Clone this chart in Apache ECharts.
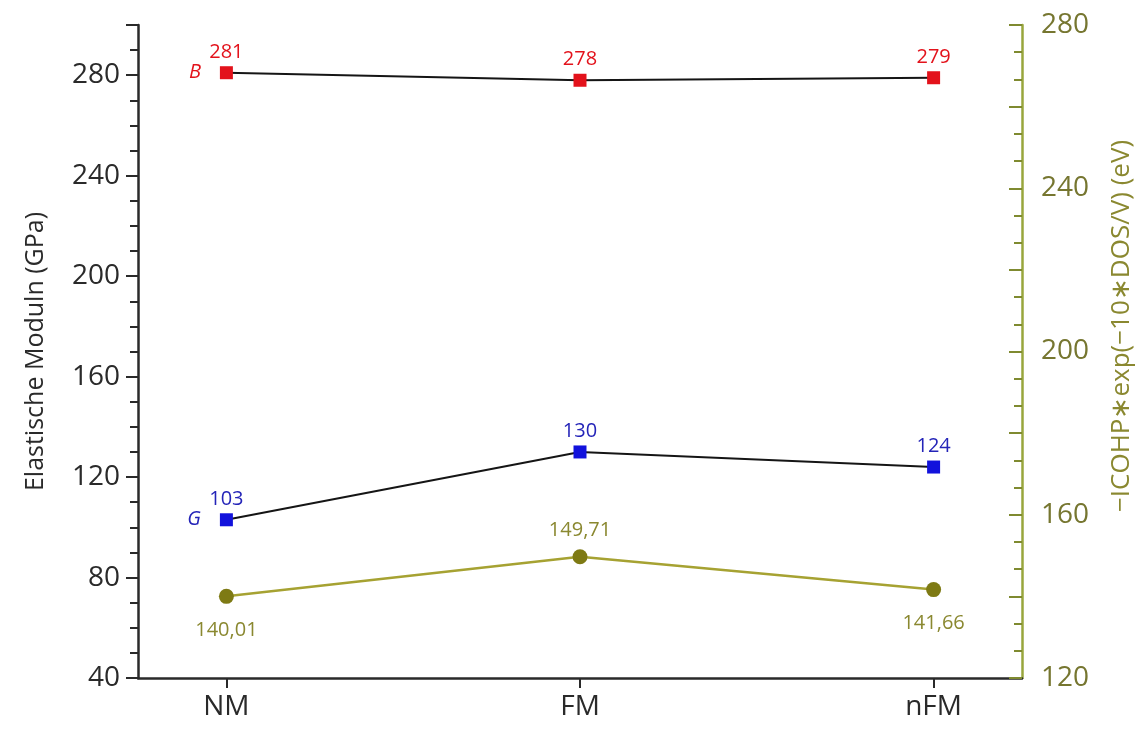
<!DOCTYPE html>
<html>
<head>
<meta charset="utf-8">
<title>Elastische Moduln</title>
<script src="https://cdn.jsdelivr.net/npm/echarts@6/dist/echarts.min.js"></script>
<style>
  html, body { margin: 0; padding: 0; background: #ffffff; }
  #chart { width: 1146px; height: 729px; }
</style>
</head>
<body>
<div id="chart"></div>
<script>
// Magnetic states along the horizontal axis
const categories = ['NM', 'FM', 'nFM'];
// Bulk modulus B and shear modulus G (GPa), left axis
const bulkB = [281, 278, 279];
const shearG = [103, 130, 124];
// -ICOHP*exp(-10*DOS/V) (eV), right axis
const icohp = [140.01, 149.71, 141.66];
// Where each ICOHP value label sits relative to its marker
const icohpLabelPos = ['bottom', 'top', 'bottom'];
// Axis tick values
const leftLabels = [40, 80, 120, 160, 200, 240, 280];
const rightLabels = [120, 160, 200, 240, 280];

const FONT = 'Open Sans';
const RED = '#e3121b';
const BLUE = '#1212dc';
const BLUE_TEXT = '#2424b8';
const OLIVE_MARK = '#7e7a14';
const OLIVE_LINE = '#a6a232';
const OLIVE_TEXT = '#8a8830';
const RIGHT_AXIS = '#98a63c';
const INK = '#2a2a2a';

// Major ticks: left every 40 plus the cap at 300; right every 20
const leftMajor = leftLabels.concat([300]);
const leftMinor = [];
for (let v = 40; v < 300; v += 10) if (leftMajor.indexOf(v) < 0) leftMinor.push(v);
const rightMajor = [];
for (let v = 120; v <= 280; v += 20) rightMajor.push(v);
const rightMinor = [];
for (let v = 120; v < 280; v += 20) { rightMinor.push(v + 20 / 3); rightMinor.push(v + 40 / 3); }

const toPoints = arr => arr.map((v, i) => [i, v]);
const comma = v => v.toFixed(2).replace('.', ',');

const chart = echarts.init(document.getElementById('chart'), null, { renderer: 'canvas' });

chart.setOption({
  backgroundColor: '#ffffff',
  animation: false,
  grid: { left: 138, right: 124, top: 25, bottom: 51 },
  xAxis: {
    type: 'value',
    min: -0.25,
    max: 2.25,
    splitLine: { show: false },
    axisLine: { show: true, onZero: false, lineStyle: { color: INK, width: 2.5 } },
    axisTick: { show: true, length: 10, customValues: [0, 1, 2], lineStyle: { color: INK, width: 2 } },
    axisLabel: {
      customValues: [0, 1, 2],
      formatter: v => categories[Math.round(v)],
      fontFamily: FONT, fontSize: 28, color: INK, margin: 15
    }
  },
  yAxis: [
    {
      type: 'value', position: 'left', min: 40, max: 300,
      name: 'Elastische Moduln (GPa)', nameLocation: 'middle', nameGap: 90,
      nameTextStyle: { fontFamily: FONT, fontSize: 25, color: INK },
      splitLine: { show: false },
      axisLine: { show: true, onZero: false, lineStyle: { color: INK, width: 2.5 } },
      axisTick: { show: true, length: 12, customValues: leftMajor, lineStyle: { color: INK, width: 2 } },
      axisLabel: { customValues: leftLabels, fontFamily: FONT, fontSize: 28, color: INK, margin: 18 }
    },
    {
      // minor ticks of the left axis
      type: 'value', position: 'left', min: 40, max: 300,
      splitLine: { show: false },
      axisLine: { show: false, onZero: false },
      axisTick: { show: true, length: 8, customValues: leftMinor, lineStyle: { color: INK, width: 2 } },
      axisLabel: { show: false }
    },
    {
      type: 'value', position: 'right', min: 120, max: 280,
      splitLine: { show: false },
      axisLine: { show: true, onZero: false, lineStyle: { color: RIGHT_AXIS, width: 2.5 } },
      axisTick: { show: true, inside: true, length: 13, customValues: rightMajor, lineStyle: { color: '#7f8a30', width: 2 } },
      axisLabel: { customValues: rightLabels, fontFamily: FONT, fontSize: 28, color: '#767630', margin: 19 }
    },
    {
      // minor ticks of the right axis
      type: 'value', position: 'right', min: 120, max: 280,
      splitLine: { show: false },
      axisLine: { show: false, onZero: false },
      axisTick: { show: true, inside: true, length: 8, customValues: rightMinor, lineStyle: { color: '#7f8a30', width: 2 } },
      axisLabel: { show: false }
    }
  ],
  graphic: [
    {
      type: 'text',
      x: 1122, y: 326,
      rotation: Math.PI / 2,
      style: {
        text: '\u2212ICOHP\u2217exp(\u221210\u2217DOS/V) (eV)',
        font: '26px "Open Sans"',
        fill: OLIVE_TEXT,
        align: 'center',
        verticalAlign: 'middle'
      }
    }
  ],
  series: [
    {
      name: 'B', type: 'line', yAxisIndex: 0,
      data: toPoints(bulkB),
      symbol: 'rect', symbolSize: 13,
      itemStyle: { color: RED },
      lineStyle: { color: '#151515', width: 2 },
      label: { show: true, position: 'top', distance: 4, fontFamily: FONT, fontSize: 20, color: RED },
      markPoint: {
        symbol: 'rect', symbolSize: 13,
        itemStyle: { color: 'rgba(0,0,0,0)' },
        data: [{ coord: [0, bulkB[0]], value: 'B' }],
        label: { show: true, position: 'left', distance: 19, formatter: 'B', fontFamily: FONT, fontStyle: 'italic', fontSize: 20, color: RED }
      }
    },
    {
      name: 'G', type: 'line', yAxisIndex: 0,
      data: toPoints(shearG),
      symbol: 'rect', symbolSize: 13,
      itemStyle: { color: BLUE },
      lineStyle: { color: '#151515', width: 2 },
      label: { show: true, position: 'top', distance: 4, fontFamily: FONT, fontSize: 20, color: BLUE_TEXT },
      markPoint: {
        symbol: 'rect', symbolSize: 13,
        itemStyle: { color: 'rgba(0,0,0,0)' },
        data: [{ coord: [0, shearG[0]], value: 'G' }],
        label: { show: true, position: 'left', distance: 19, formatter: 'G', fontFamily: FONT, fontStyle: 'italic', fontSize: 20, color: BLUE_TEXT }
      }
    },
    {
      name: 'ICOHP', type: 'line', yAxisIndex: 2,
      data: icohp.map((v, i) => ({
        value: [i, v],
        label: { position: icohpLabelPos[i], distance: icohpLabelPos[i] === 'top' ? 9 : 16 }
      })),
      symbol: 'circle', symbolSize: 15,
      itemStyle: { color: OLIVE_MARK },
      lineStyle: { color: OLIVE_LINE, width: 2.5 },
      label: {
        show: true,
        formatter: p => comma(p.value[1]),
        fontFamily: FONT, fontSize: 20, color: OLIVE_TEXT
      }
    }
  ]
});
</script>
</body>
</html>
